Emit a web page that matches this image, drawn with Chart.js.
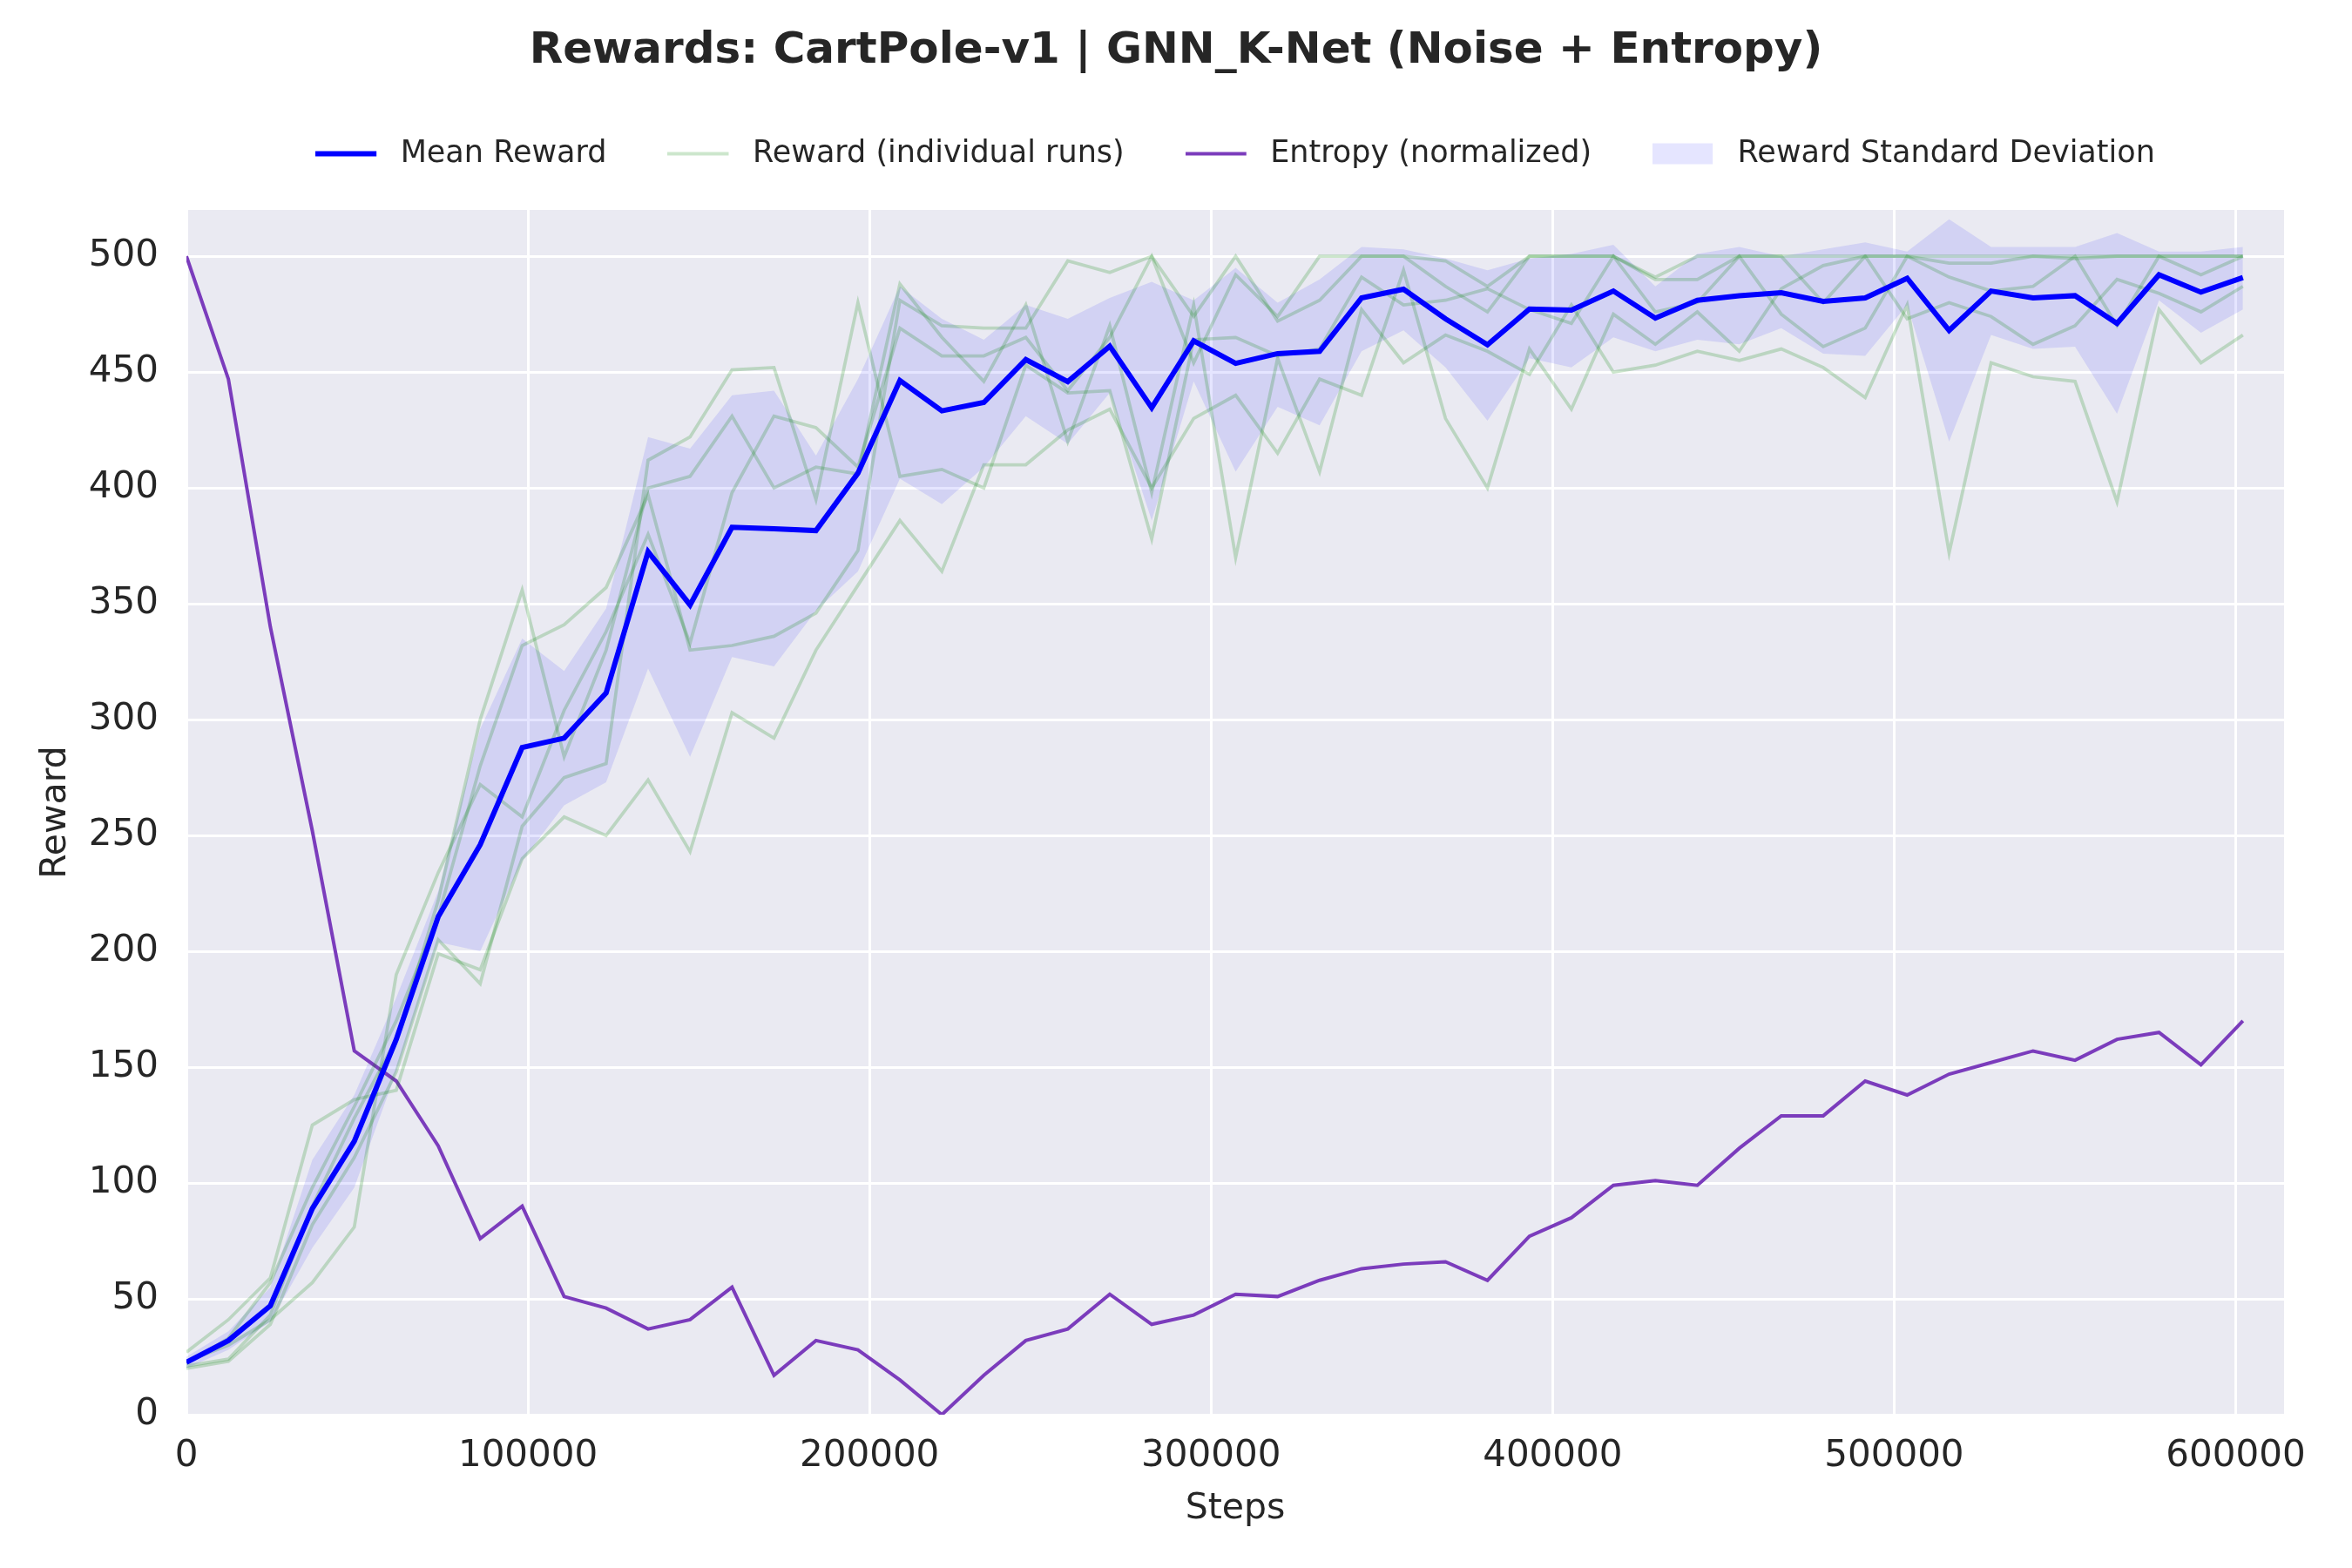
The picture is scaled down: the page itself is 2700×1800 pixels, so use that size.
<!DOCTYPE html>
<html>
<head>
<meta charset="utf-8">
<script src="https://cdn.jsdelivr.net/npm/chart.js@4.4.1/dist/chart.umd.min.js"></script>
<style>
  html, body { margin: 0; padding: 0; background: #ffffff; }
  #wrap { width: 2700px; height: 1800px; }
</style>
</head>
<body>
<div id="wrap"><canvas id="rewardChart" width="2700" height="1800"></canvas></div>
<script>
// ---------- DATA ----------
const steps = [
  0, 12288, 24576, 36864, 49152, 61440, 73728, 86016, 98304, 110592,
  122880, 135168, 147456, 159744, 172032, 184320, 196608, 208896, 221184, 233472,
  245760, 258048, 270336, 282624, 294912, 307200, 319488, 331776, 344064, 356352,
  368640, 380928, 393216, 405504, 417792, 430080, 442368, 454656, 466944, 479232,
  491520, 503808, 516096, 528384, 540672, 552960, 565248, 577536, 589824, 602112
];

const meanReward = [
  22.6, 32, 47, 89, 118, 162, 215, 246, 288, 292,
  311.5, 372.5, 349.5, 383, 382.4, 381.6, 406.4, 446.4, 433.3, 436.9,
  455.4, 445.9, 461.2, 434.6, 463.5, 453.8, 458, 459, 482, 485.8,
  473, 461.8, 477.2, 476.8, 485, 473.3, 481, 483, 484.3, 480.5,
  482, 490.5, 468, 485, 482, 483, 471, 492, 484.5, 490.8
];

// individual runs (5 seeds)
const runA = [
  27, 41, 59, 125, 136, 140, 199, 192, 240, 258,
  250, 274, 243, 303, 292, 330, 358, 386, 364, 410,
  410, 425, 434, 400, 430, 440, 415, 447, 440, 494,
  430, 400, 460, 434, 475, 462, 476, 459, 486, 496,
  500, 473, 480, 474, 462, 470, 490, 484, 476, 487
];
const runB = [
  21, 24, 43, 90, 128, 162, 222, 300, 356, 284,
  330, 400, 405, 431, 400, 409, 406, 488, 465, 446,
  479, 420, 470, 398, 479, 370, 456, 407, 477, 454,
  466, 459, 449, 479, 450, 453, 459, 455, 460, 452,
  439, 479, 372, 454, 448, 446, 394, 477, 454, 466
];
const runC = [
  22, 33, 57, 98, 133, 170, 215, 280, 332, 341,
  357, 397, 330, 332, 336, 346, 373, 481, 470, 469,
  469, 498, 493, 500, 474, 500, 472, 481, 500, 500,
  487, 476, 500, 500, 500, 490, 490, 500, 500, 480,
  500, 500, 497, 497, 500, 499, 500, 500, 500, 500
];
const runD = [
  20, 23, 39, 82, 111, 148, 205, 186, 254, 275,
  281, 412, 422, 451, 452, 395, 480, 405, 408, 400,
  453, 441, 442, 378, 464, 465, 457, 460, 491, 479,
  481, 486, 477, 471, 500, 476, 480, 500, 475, 461,
  469, 500, 491, 485, 487, 500, 470, 500, 492, 500
];
const runE = [
  23, 30, 41, 57, 81, 190, 234, 272, 258, 304,
  338, 380, 333, 398, 431, 426, 409, 469, 457, 457,
  465, 442, 465, 500, 454, 492, 474, 500, 500, 500,
  498, 487, 500, 500, 500, 491, 500, 500, 500, 500,
  500, 500, 500, 500, 500, 500, 500, 500, 500, 500
];

// mean +/- std band
const stdUpper = [
  25, 36, 55, 110, 138, 180, 226, 296, 335, 321,
  348, 422, 417, 440, 442, 414, 447, 487, 473, 464,
  479, 473, 482, 489, 481, 495, 480, 490, 504, 503,
  499, 494, 499, 501, 505, 487, 501, 504, 500, 503,
  506, 502, 516, 504, 504, 504, 510, 502, 502, 504
];
const stdLower = [
  20, 28, 40, 72, 98, 148, 204, 200, 239, 263,
  273, 322, 284, 327, 323, 347, 364, 404, 393, 409,
  431, 419, 441, 386, 446, 407, 435, 427, 459, 468,
  452, 429, 456, 452, 465, 459, 464, 462, 469, 458,
  457, 479, 420, 466, 460, 461, 432, 481, 467, 477
];

const entropyNorm = [
  500, 447, 340, 252, 157, 144, 116, 76, 90, 51,
  46, 37, 41, 55, 17, 32, 28, 15, 0, 17,
  32, 37, 52, 39, 43, 52, 51, 58, 63, 65,
  66, 58, 77, 85, 99, 101, 99, 115, 129, 129,
  144, 138, 147, 152, 157, 153, 162, 165, 151, 170
];

const xTickValues = [0, 100000, 200000, 300000, 400000, 500000, 600000];
const yTickValues = [0, 50, 100, 150, 200, 250, 300, 350, 400, 450, 500];
const xMax = 614154;
const yMax = 520;

// ---------- STYLE ----------
const TEXT = "#262626";
const MEAN_COLOR = "#0000ff";
const RUN_COLOR = "rgba(0,128,0,0.2)";
const ENTROPY_COLOR = "#7b3cbc";
const BAND_COLOR = "rgba(0,0,255,0.1)";
const FONT = "'DejaVu Sans', 'Liberation Sans', sans-serif";

Chart.defaults.font.family = FONT;
Chart.defaults.color = TEXT;

function pts(arr) {
  return steps.map((s, i) => ({ x: s, y: arr[i] }));
}

// ---------- LEGEND MARKERS ----------
function lineMarker(color, width) {
  const c = document.createElement("canvas");
  c.width = 80;
  c.height = 35;
  const g = c.getContext("2d");
  g.strokeStyle = color;
  g.lineWidth = width;
  g.lineCap = "square";
  g.beginPath();
  g.moveTo(width / 2, 17.5);
  g.lineTo(70 - width / 2, 17.5);
  g.stroke();
  return c;
}

function patchMarker(color) {
  const c = document.createElement("canvas");
  c.width = 80;
  c.height = 35;
  const g = c.getContext("2d");
  g.fillStyle = color;
  g.fillRect(0, 5.5, 69, 24);
  return c;
}

const legendItems = [
  { text: "Mean Reward", marker: lineMarker(MEAN_COLOR, 6), ds: 0 },
  { text: "Reward (individual runs)", marker: lineMarker(RUN_COLOR, 4), ds: 1 },
  { text: "Entropy (normalized)", marker: lineMarker(ENTROPY_COLOR, 4), ds: 6 },
  { text: "Reward Standard Deviation", marker: patchMarker(BAND_COLOR), ds: 8 },
];

// ---------- PLOT BACKGROUND ----------
const plotBackground = {
  id: "plotBackground",
  beforeDraw(chart) {
    const { ctx, chartArea } = chart;
    ctx.save();
    ctx.fillStyle = "#eaeaf2";
    ctx.fillRect(chartArea.left, chartArea.top, chartArea.right - chartArea.left, chartArea.bottom - chartArea.top);
    ctx.restore();
  },
};

// ---------- DATASETS ----------
const runStyle = {
  borderColor: RUN_COLOR,
  borderWidth: 3.75,
  pointRadius: 0,
  tension: 0,
  fill: false,
};

const datasets = [
  { label: "Mean Reward", data: pts(meanReward), borderColor: MEAN_COLOR, borderWidth: 6, pointRadius: 0, tension: 0, fill: false },
  { label: "Reward (individual runs)", data: pts(runA), ...runStyle },
  { label: "run B", data: pts(runB), ...runStyle },
  { label: "run C", data: pts(runC), ...runStyle },
  { label: "run D", data: pts(runD), ...runStyle },
  { label: "run E", data: pts(runE), ...runStyle },
  { label: "Entropy (normalized)", data: pts(entropyNorm), borderColor: ENTROPY_COLOR, borderWidth: 4, pointRadius: 0, tension: 0, fill: false },
  { label: "std upper", data: pts(stdUpper), borderWidth: 0, borderColor: "rgba(0,0,0,0)", pointRadius: 0, tension: 0, fill: false },
  { label: "Reward Standard Deviation", data: pts(stdLower), borderWidth: 0, borderColor: "rgba(0,0,0,0)", backgroundColor: BAND_COLOR, pointRadius: 0, tension: 0, fill: "-1" },
];

// ---------- CREATE CHART ----------
const ctx = document.getElementById("rewardChart").getContext("2d");

const rewardChart = new Chart(ctx, {
  type: "line",
  data: { datasets },
  plugins: [plotBackground],
  options: {
    responsive: false,
    devicePixelRatio: 1,
    animation: false,
    layout: {
      padding: { left: 26, right: 26, top: 0, bottom: 37 },
    },
    scales: {
      x: {
        type: "linear",
        min: 0,
        max: xMax,
        afterBuildTicks: (scale) => {
          scale.ticks = xTickValues.map((v) => ({ value: v }));
        },
        afterFit: (scale) => {
          scale.height = 139;
        },
        grid: { color: "#ffffff", lineWidth: 3, drawTicks: false },
        border: { display: false },
        ticks: {
          maxRotation: 0,
          autoSkip: false,
          padding: 23,
          color: TEXT,
          font: { size: 42 },
          callback: (v) => String(v),
        },
        title: {
          display: true,
          text: "Steps",
          color: TEXT,
          font: { size: 41 },
          padding: { top: 10, bottom: 6 },
        },
      },
      y: {
        min: 0,
        max: yMax,
        afterBuildTicks: (scale) => {
          scale.ticks = yTickValues.map((v) => ({ value: v }));
        },
        afterFit: (scale) => {
          scale.width = 188;
        },
        grid: { color: "#ffffff", lineWidth: 3, drawTicks: false },
        border: { display: false },
        ticks: {
          padding: 32,
          color: TEXT,
          font: { size: 42 },
          callback: (v) => String(v),
        },
        title: {
          display: true,
          text: "Reward",
          color: TEXT,
          font: { size: 41 },
          padding: { top: 14, bottom: 10 },
        },
      },
      // empty right margin so the title stays centred on the figure
      yRight: {
        position: "right",
        display: true,
        grid: { display: false },
        border: { display: false },
        ticks: { display: false },
        afterFit: (scale) => {
          scale.width = 52;
        },
      },
    },
    plugins: {
      title: {
        display: true,
        text: "Rewards: CartPole-v1 | GNN_K-Net (Noise + Entropy)",
        color: TEXT,
        font: { size: 50, weight: "bold" },
        padding: { top: 29, bottom: 0 },
      },
      legend: {
        display: true,
        position: "top",
        fullSize: false,
        labels: {
          usePointStyle: true,
          pointStyleWidth: 80,
          padding: 70,
          color: TEXT,
          font: { size: 35 },
          generateLabels: () =>
            legendItems.map((it) => ({
              text: it.text,
              pointStyle: it.marker,
              fillStyle: "rgba(0,0,0,0)",
              strokeStyle: "rgba(0,0,0,0)",
              lineWidth: 0,
              hidden: false,
              datasetIndex: it.ds,
              fontColor: TEXT,
            })),
        },
        onClick: () => {},
      },
      // spacer between legend and plot area
      subtitle: {
        display: true,
        text: " ",
        weight: 500,
        fullSize: false,
        font: { size: 20, lineHeight: 1 },
        padding: { top: 10, bottom: 7 },
      },
      tooltip: { enabled: false },
    },
  },
});
</script>
</body>
</html>
